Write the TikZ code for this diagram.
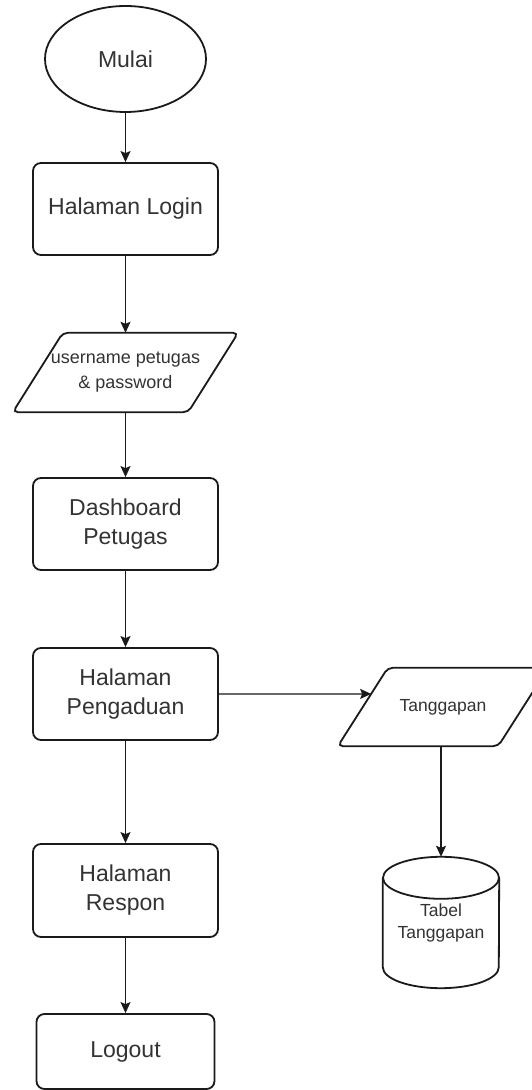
\documentclass[tikz,border=0pt]{standalone}
\usepackage{fontspec}
\setmainfont{Liberation Sans}
\usetikzlibrary{shapes.geometric,arrows.meta,calc}
\definecolor{ink}{HTML}{1A1A1A}
\definecolor{txt}{HTML}{333333}
\begin{document}
\begin{tikzpicture}[x=1pt,y=1pt,
  shapeline/.style={draw=ink,line width=1.8pt},
  bigfont/.style={text=txt,font=\fontsize{23}{29}\selectfont,align=center},
  flowbox/.style={shapeline,bigfont,rounded corners=8pt,minimum width=185pt,
    minimum height=92pt,inner sep=0pt},
  iotext/.style={inner sep=0pt,text=txt,align=center},
  link/.style={draw=ink,line width=1.3pt,-{Stealth[length=11pt,width=10pt,inset=2pt]}},
]
\useasboundingbox (0,0) rectangle (532,1090);
\fill[white] (0,0) rectangle (532,1090);
\clip (0,0) rectangle (532,1090);

% main column
\node[shapeline,bigfont,ellipse,minimum width=161pt,minimum height=106pt,inner sep=0pt]
  (mulai) at (125.5,1031) {Mulai};
\node[flowbox] (login) at (125.5,881) {Halaman Login};
\node[iotext,minimum width=225pt,minimum height=79pt,
  font=\fontsize{18}{25}\selectfont] (input) at (125.5,717.5)
  {username petugas\\\& password};
\node[flowbox] (dash) at (125.5,566) {Dashboard\\Petugas};
\node[flowbox] (peng) at (125.5,396) {Halaman\\Pengaduan};
\node[flowbox,minimum height=93pt] (resp) at (125.5,199.5) {Halaman\\Respon};
\node[flowbox,minimum width=178pt,minimum height=75pt] (logout) at (125.5,38.5) {Logout};

% side branch
\node[iotext,minimum width=210pt,minimum height=78pt,
  font=\fontsize{17.5}{22}\selectfont] (tgp) at (443,383) {Tanggapan};
\node[iotext,minimum width=116pt,minimum height=131pt,
  font=\fontsize{17.5}{22}\selectfont] (tabel) at (441,167.5) {Tabel\\Tanggapan};

% parallelogram outlines
\draw[shapeline,rounded corners=5pt] (input.south west) -- ([xshift=50pt]input.north west)
  -- (input.north east) -- ([xshift=-50pt]input.south east) -- cycle;
\draw[shapeline,rounded corners=5pt] (tgp.south west) -- ([xshift=50pt]tgp.north west)
  -- (tgp.north east) -- ([xshift=-50pt]tgp.south east) -- cycle;

% database cylinder
\draw[shapeline] ($(tabel.north)+(0,-21pt)$) ellipse [x radius=58pt,y radius=21pt];
\draw[shapeline] ($(tabel.north west)+(0,-21pt)$) -- ($(tabel.south west)+(0,21pt)$)
  arc[start angle=180,end angle=360,x radius=58pt,y radius=21pt]
  -- ($(tabel.north east)+(0,-21pt)$);

% connectors
\coordinate (tgin) at ($(tgp.south west)!0.667!([xshift=50pt]tgp.north west)$);
\draw[link] (mulai.south) -- (login.north);
\draw[link] (login.south) -- (input.north);
\draw[link] (input.south) -- (dash.north);
\draw[link] (dash.south) -- (peng.north);
\draw[link] (peng.south) -- (resp.north);
\draw[link] (resp.south) -- (logout.north);
\draw[link] (peng.east) -- (tgin);
\draw[link] (tabel.north |- tgp.south) -- (tabel.north);
\end{tikzpicture}
\end{document}
